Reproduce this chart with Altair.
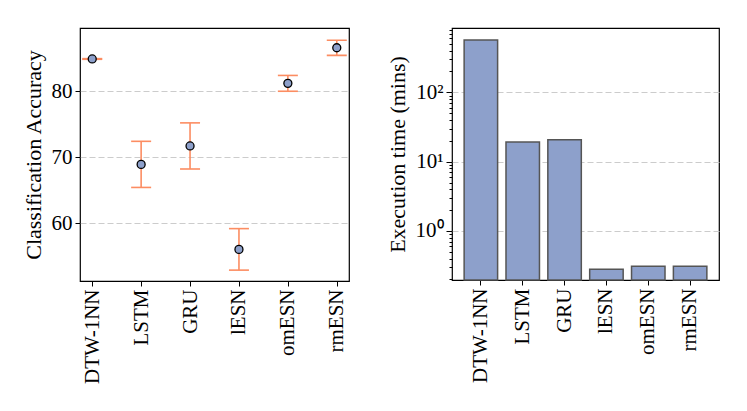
import altair as alt
import pandas as pd

models = ["DTW-1NN", "LSTM", "GRU", "lESN", "omESN", "rmESN"]
acc_mean = [84.9, 68.9, 71.7, 56.0, 81.2, 86.6]
acc_err = [0.05, 3.5, 3.5, 3.15, 1.2, 1.15]
exec_time = [569.0, 19.2, 20.7, 0.28, 0.31, 0.31]

acc_domain = [51.2, 89.6]
acc_ticks = [60, 70, 80]
time_domain = [0.196, 848.0]
time_major = [1, 10, 100]
time_minor = [0.2, 0.3, 0.4, 0.5, 0.6, 0.7, 0.8, 0.9,
              2, 3, 4, 5, 6, 7, 8, 9,
              20, 30, 40, 50, 60, 70, 80, 90,
              200, 300, 400, 500, 600, 700, 800]

FONT = "Liberation Serif"
FS = 21
TFS = 22
BLUE = "#8da0cb"
ORANGE = "#fc8d62"

df_acc = pd.DataFrame({
    "model": models,
    "acc": acc_mean,
    "lo": [m - e for m, e in zip(acc_mean, acc_err)],
    "hi": [m + e for m, e in zip(acc_mean, acc_err)],
})
df_time = pd.DataFrame({"model": models, "time": exec_time})

common_x_axis = dict(labelAngle=270, labelFont=FONT, labelFontSize=FS, labelColor="black",
                     title=None, domain=False, ticks=True, tickColor="black", tickSize=5,
                     tickWidth=1, labelPadding=3, grid=False)

x_acc = alt.X("model:N", sort=models,
              scale=alt.Scale(type="point", padding=0.25),
              axis=alt.Axis(**common_x_axis))
y_acc_scale = alt.Scale(domain=acc_domain, nice=False, zero=False)

base = alt.Chart(df_acc)
err = base.mark_rule(color=ORANGE, strokeWidth=1.6, opacity=1).encode(
    x=x_acc,
    y=alt.Y("lo:Q", scale=y_acc_scale,
            axis=alt.Axis(values=acc_ticks, title="Classification Accuracy",
                          titleFont=FONT, titleFontSize=TFS, titleFontWeight="normal",
                          titleColor="black", titlePadding=6,
                          labelFont=FONT, labelFontSize=FS, labelColor="black",
                          domain=False, tickColor="black", tickSize=5, labelPadding=3,
                          grid=True, gridColor="#cccccc", gridDash=[6, 3], gridWidth=1.2)),
    y2="hi:Q",
)
cap_lo = base.mark_tick(color=ORANGE, thickness=1.6, size=20, opacity=1).encode(
    x=x_acc, y=alt.Y("lo:Q", scale=y_acc_scale))
cap_hi = base.mark_tick(color=ORANGE, thickness=1.6, size=20, opacity=1).encode(
    x=x_acc, y=alt.Y("hi:Q", scale=y_acc_scale))
pts = base.mark_point(filled=True, fill=BLUE, stroke="black", strokeWidth=1.3, size=64, opacity=1).encode(
    x=x_acc, y=alt.Y("acc:Q", scale=y_acc_scale))

left = alt.layer(err, cap_lo, cap_hi, pts).properties(width=269, height=253)

is_major = "datum.value == 1 || datum.value == 10 || datum.value == 100"
right = alt.Chart(df_time).mark_bar(fill=BLUE, stroke="#555555", strokeWidth=1.5).encode(
    x=alt.X("model:N", sort=models,
            scale=alt.Scale(paddingInner=0.2, paddingOuter=0.29),
            axis=alt.Axis(**common_x_axis)),
    y=alt.Y("time:Q",
            scale=alt.Scale(type="log", domain=time_domain, nice=False),
            axis=alt.Axis(values=time_major + time_minor,
                          labelExpr="datum.value == 1 ? '10⁰' : datum.value == 10 ? '10¹' : datum.value == 100 ? '10²' : ''",
                          title="Execution time (mins)",
                          titleFont=FONT, titleFontSize=TFS, titleFontWeight="normal",
                          titleColor="black", titlePadding=6,
                          labelFont=FONT, labelFontSize=FS, labelColor="black",
                          domain=False, tickColor="black", labelPadding=3,
                          tickSize={"condition": {"test": is_major, "value": 6}, "value": 3},
                          grid=True, gridColor="#cccccc", gridDash=[6, 3], gridWidth=1.2,
                          gridOpacity={"condition": {"test": is_major, "value": 1}, "value": 0})),
    y2=alt.datum(time_domain[0]),
).properties(width=267, height=252)

chart = alt.hconcat(left, right, spacing=35).properties(
    padding={"left": 13, "top": 19, "right": 5, "bottom": 5}, background="white"
).configure_view(stroke="black", strokeWidth=1.2)

chart.save("out.html", embed_options={"renderer": "svg", "actions": False})
